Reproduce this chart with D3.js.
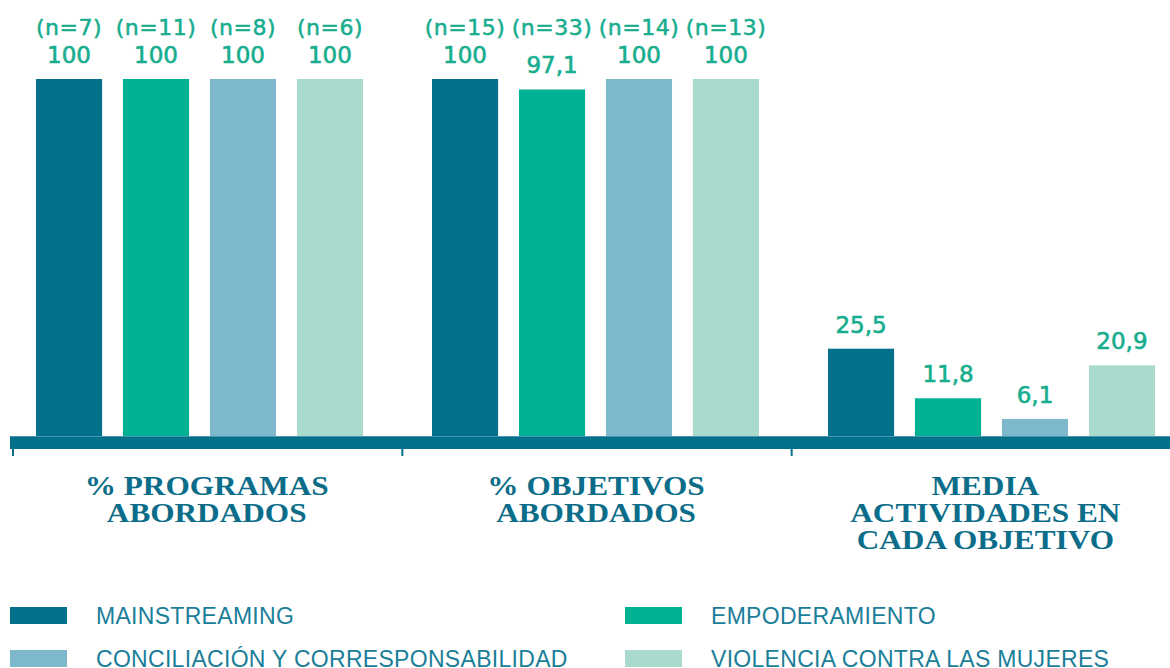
<!DOCTYPE html>
<html><head><meta charset="utf-8">
<script src="https://cdn.jsdelivr.net/npm/d3@7"></script>
<style>html,body{margin:0;padding:0;background:#fff;}svg{display:block;}</style>
</head><body>
<svg id="chart" width="1170" height="668"></svg>
<script>
const categories = ["% PROGRAMAS ABORDADOS", "% OBJETIVOS ABORDADOS", "MEDIA ACTIVIDADES EN CADA OBJETIVO"];
const categoryLines = [["% PROGRAMAS", "ABORDADOS"], ["% OBJETIVOS", "ABORDADOS"], ["MEDIA", "ACTIVIDADES EN", "CADA OBJETIVO"]];
const seriesNames = ["MAINSTREAMING", "EMPODERAMIENTO", "CONCILIACIÓN Y CORRESPONSABILIDAD", "VIOLENCIA CONTRA LAS MUJERES"];
const mainstreaming = [100, 100, 25.5];
const empoderamiento = [100, 97.1, 11.8];
const conciliacion = [100, 100, 6.1];
const violencia = [100, 100, 20.9];
const nMainstreaming = [7, 15, null];
const nEmpoderamiento = [11, 33, null];
const nConciliacion = [8, 14, null];
const nViolencia = [6, 13, null];
const colors = ["#03708c", "#00b294", "#7db9cb", "#a8dacd"];

const seriesValues = [mainstreaming, empoderamiento, conciliacion, violencia];
const seriesN = [nMainstreaming, nEmpoderamiento, nConciliacion, nViolencia];

const data = [];
categories.forEach((c, ci) => {
  seriesNames.forEach((s, si) => {
    data.push({cat: c, ci, series: s, si, value: seriesValues[si][ci], n: seriesN[si][ci]});
  });
});

const svg = d3.select("#chart");
const labelColor = "#17ad8e";
const axisColor = "#03708c";

// scales
const xLabel = d3.scaleBand().domain(categories).range([12, 1180]).padding(0);
const xBars = d3.scaleBand().domain(categories).range([4, 1192]).padding(0);
const x1 = d3.scaleBand().domain(seriesNames).range([32, 359]).paddingInner(0.24).paddingOuter(0);
const y = d3.scaleLinear().domain([0, 100]).range([441, 79]);

const fmt = v => Number.isInteger(v) ? String(v) : String(v).replace(".", ",");

// bars
svg.append("g").selectAll("rect").data(data).join("rect")
  .attr("x", d => xBars(d.cat) + x1(d.series))
  .attr("y", d => y(d.value))
  .attr("width", x1.bandwidth())
  .attr("height", d => y(0) - y(d.value))
  .attr("fill", d => colors[d.si]);

// value labels
svg.append("g").selectAll("text").data(data).join("text")
  .attr("x", d => xBars(d.cat) + x1(d.series) + x1.bandwidth() / 2)
  .attr("y", d => y(d.value) - 16)
  .attr("text-anchor", "middle")
  .attr("font-family", "DejaVu Sans, Verdana, sans-serif")
  .attr("font-size", 23)
  .attr("fill", labelColor)
  .attr("stroke", labelColor)
  .attr("stroke-width", 0.6)
  .text(d => fmt(d.value));

// n labels
svg.append("g").selectAll("text").data(data.filter(d => d.n != null)).join("text")
  .attr("x", d => xBars(d.cat) + x1(d.series) + x1.bandwidth() / 2)
  .attr("y", y(100) - 44)
  .attr("text-anchor", "middle")
  .attr("font-family", "DejaVu Sans, Verdana, sans-serif")
  .attr("font-size", 22)
  .attr("letter-spacing", 0.5)
  .attr("fill", labelColor)
  .attr("stroke", labelColor)
  .attr("stroke-width", 0.5)
  .text(d => "(n=" + d.n + ")");

// axis band
svg.append("rect").attr("x", 10).attr("y", 436).attr("width", 1160).attr("height", 13).attr("fill", axisColor);
svg.append("line").attr("x1", 10).attr("x2", 1170).attr("y1", 436.5).attr("y2", 436.5)
  .attr("stroke", "#4d95ad").attr("stroke-width", 1);

// ticks
svg.append("g").selectAll("line").data(categories).join("line")
  .attr("x1", d => xLabel(d) + 1).attr("x2", d => xLabel(d) + 1)
  .attr("y1", 449).attr("y2", 456)
  .attr("stroke", axisColor).attr("stroke-width", 2);

// category labels
const catG = svg.append("g").selectAll("g").data(categories).join("g");
catG.each(function(d, i) {
  const g = d3.select(this);
  categoryLines[i].forEach((line, li) => {
    g.append("text")
      .attr("transform", `translate(${xLabel(d) + xLabel.bandwidth() / 2},${494.5 + li * 27}) scale(1.18,1)`)
      .attr("text-anchor", "middle")
      .attr("font-family", "Liberation Serif, Times New Roman, serif")
      .attr("font-weight", "bold")
      .attr("font-size", 26.5)
      .attr("fill", "#0b6d89")
      .text(line);
  });
});

// legend
const legendPos = [[10, 607], [625, 607], [10, 650], [625, 650]];
const lg = svg.append("g").selectAll("g").data(seriesNames).join("g")
  .attr("transform", (d, i) => `translate(${legendPos[i][0]},${legendPos[i][1]})`);
lg.append("rect").attr("width", 57).attr("height", 17).attr("fill", (d, i) => colors[i]);
lg.append("text").attr("x", 86).attr("y", 16.5)
  .attr("font-family", "Liberation Sans, Arial, sans-serif")
  .attr("font-size", 23)
  .attr("letter-spacing", 0.3)
  .attr("fill", "#1a7e99")
  .text(d => d);
</script>
</body></html>
